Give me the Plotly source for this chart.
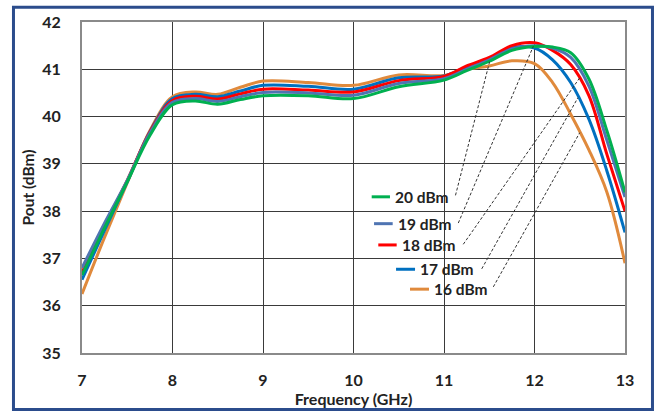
import plotly.graph_objects as go

freq = [7, 7.25, 7.5, 7.75, 8, 8.25, 8.5, 8.75, 9, 9.5, 10, 10.5, 11, 11.25, 11.5, 11.75, 12, 12.2, 12.4, 12.6, 12.8, 13]

p20 = [36.65, 37.65, 38.62, 39.6, 40.25, 40.33, 40.26, 40.36, 40.44, 40.44, 40.38, 40.63, 40.77, 40.97, 41.17, 41.4, 41.48, 41.47, 41.35, 40.8, 39.7, 38.4]
p19 = [36.8, 37.75, 38.65, 39.65, 40.3, 40.38, 40.32, 40.42, 40.51, 40.5, 40.45, 40.7, 40.8, 41.0, 41.2, 41.43, 41.5, 41.45, 41.25, 40.65, 39.5, 38.3]
p18 = [36.7, 37.7, 38.65, 39.67, 40.34, 40.43, 40.37, 40.48, 40.58, 40.56, 40.52, 40.76, 40.85, 41.07, 41.25, 41.5, 41.56, 41.4, 41.1, 40.45, 39.2, 38.0]
p17 = [36.55, 37.6, 38.62, 39.68, 40.38, 40.47, 40.42, 40.54, 40.66, 40.64, 40.58, 40.82, 40.86, 41.05, 41.22, 41.45, 41.45, 41.2, 40.72, 39.95, 38.85, 37.55]
p16 = [36.25, 37.45, 38.6, 39.7, 40.42, 40.52, 40.47, 40.62, 40.75, 40.72, 40.66, 40.88, 40.87, 41.0, 41.07, 41.18, 41.12, 40.72, 40.05, 39.3, 38.4, 36.9]

labels = ["16 dBm", "17 dBm", "18 dBm", "19 dBm", "20 dBm"]
series = [p16, p17, p18, p19, p20]
colors = ["#E08A3C", "#0070C0", "#FF0000", "#4F74B2", "#00B050"]

# legend label placement (data coords) and leader endpoints
leg_line_x0 = [10.624, 10.470, 10.274, 10.227, 10.201]
leg_line_x1 = [10.834, 10.680, 10.477, 10.433, 10.403]
leg_y = [36.350, 36.771, 37.285, 37.735, 38.303]
leg_text_x = [10.870, 10.712, 10.517, 10.466, 10.436]
lead_x0 = [11.545, 11.417, 11.213, 11.158, 11.127]
lead_y0 = [36.398, 36.780, 37.299, 37.748, 38.334]
lead_x1 = [12.50, 12.48, 12.503, 11.987, 11.508]
lead_y1 = [39.66, 40.40, 40.830, 41.487, 41.190]

FONT = "Lato"

fig = go.Figure()
for name, ys, c in zip(labels, series, colors):
    fig.add_trace(go.Scatter(x=freq, y=ys, mode="lines", name=name,
                             line=dict(color=c, width=3, shape="spline", smoothing=1.0),
                             showlegend=False))

shapes = []
annotations = []
for i in range(5):
    shapes.append(dict(type="line", xref="x", yref="y", x0=leg_line_x0[i], x1=leg_line_x1[i],
                       y0=leg_y[i], y1=leg_y[i], line=dict(color=colors[i], width=3)))
    shapes.append(dict(type="line", xref="x", yref="y", x0=lead_x0[i], y0=lead_y0[i],
                       x1=lead_x1[i], y1=lead_y1[i], line=dict(color="#333333", width=1, dash="3px,2px")))
    annotations.append(dict(x=leg_text_x[i], y=leg_y[i], xref="x", yref="y", text="<b>%s</b>" % labels[i],
                            showarrow=False, xanchor="left", yanchor="middle",
                            font=dict(family=FONT, size=15.5, color="#222222")))

# outer blue frame
shapes.append(dict(type="rect", xref="paper", yref="paper", x0=-0.1262, x1=1.0506, y0=-0.1706, y1=1.0445,
                   line=dict(color="#2B4C8C", width=3), fillcolor="rgba(0,0,0,0)", layer="above"))

fig.update_layout(
    width=659, height=416,
    margin=dict(l=82, r=34, t=17, b=62),
    paper_bgcolor="white", plot_bgcolor="white",
    shapes=shapes, annotations=annotations,
    xaxis=dict(range=[7, 13], dtick=1, tick0=7, showgrid=True, gridcolor="#3a3a3a", gridwidth=1.3,
               showline=True, linecolor="#8a8a8a", linewidth=2, mirror=True, zeroline=False,
               ticks="", ticklabelstandoff=12,
               tickfont=dict(family=FONT, size=16, color="#222222"),
               title=dict(text="<b>Frequency (GHz)</b>", font=dict(family=FONT, size=16, color="#222222"), standoff=4)),
    yaxis=dict(range=[35, 42], dtick=1, showgrid=True, gridcolor="#3a3a3a", gridwidth=1.3,
               showline=True, linecolor="#8a8a8a", linewidth=2, mirror=True, zeroline=False,
               ticks="", ticklabelstandoff=16,
               tickfont=dict(family=FONT, size=16, color="#222222"),
               title=dict(text="<b>Pout (dBm)</b>", font=dict(family=FONT, size=15.5, color="#222222"), standoff=4)),
)
fig.update_xaxes(tickprefix="<b>", ticksuffix="</b>")
fig.update_yaxes(tickprefix="<b>", ticksuffix="</b>")

fig.write_html("out.html")
